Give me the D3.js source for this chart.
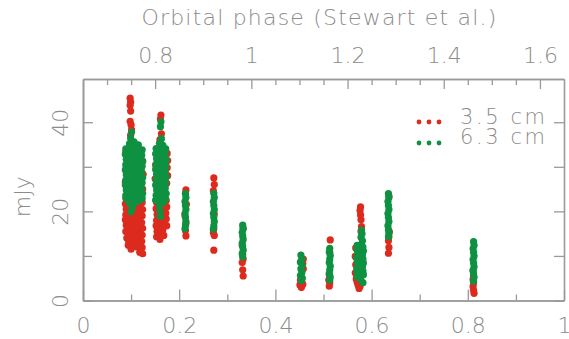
<!DOCTYPE html>
<html>
<head>
<meta charset="utf-8">
<script src="https://cdn.jsdelivr.net/npm/d3@7"></script>
<style>
  html, body { margin: 0; padding: 0; background: #fff; }
  svg text { font-family: "DejaVu Sans", "Liberation Sans", sans-serif; font-weight: 200; fill: #8c8c8c; }
</style>
</head>
<body>
<svg id="chart" width="569" height="339"></svg>
<script>
// Flux densities [orbital phase, mJy] at 3.5 cm
const obs35 = [
  // epoch near 0.10
  [0.098,45.4],[0.099,44.5],[0.098,43.8],[0.099,42.5],[0.098,40.2],[0.100,39.4],[0.101,38.3],[0.099,37.1],
  [0.089,33.4],[0.090,30.1],[0.088,26.6],[0.124,31.2],[0.125,28.3],[0.124,25.0],
  [0.089,23.0],[0.088,21.7],[0.090,20.5],[0.089,19.2],[0.088,18.1],[0.090,16.9],[0.089,15.5],[0.091,14.0],
  [0.094,22.5],[0.095,21.1],[0.094,19.8],[0.093,18.6],[0.095,17.3],[0.094,16.0],[0.096,14.8],[0.095,13.2],[0.094,12.4],
  [0.100,23.1],[0.101,21.6],[0.100,20.2],[0.099,19.0],[0.101,17.6],[0.100,16.4],[0.102,15.1],[0.100,13.9],[0.101,12.8],[0.100,11.5],
  [0.106,22.3],[0.107,21.0],[0.105,19.6],[0.106,18.3],[0.107,17.0],[0.106,15.7],[0.105,14.4],[0.107,13.5],
  [0.112,22.8],[0.113,21.3],[0.111,19.9],[0.112,18.6],[0.113,17.2],[0.112,15.9],[0.111,14.6],[0.113,13.1],[0.112,12.0],
  [0.118,22.5],[0.117,21.0],[0.119,19.7],[0.118,18.4],[0.117,17.1],[0.119,15.8],[0.118,14.3],[0.117,12.9],[0.119,11.7],[0.118,10.8],
  [0.123,22.0],[0.124,20.4],[0.123,19.0],[0.122,17.5],[0.124,16.2],[0.123,14.7],[0.122,13.3],[0.123,11.9],[0.124,10.5],
  // epoch near 0.16
  [0.162,41.6],[0.161,40.7],[0.163,37.4],[0.160,36.1],
  [0.175,33.0],[0.176,31.4],[0.175,29.8],[0.176,28.0],[0.174,26.3],[0.151,30.4],[0.150,27.3],
  [0.153,22.0],[0.152,20.6],[0.154,19.3],[0.153,18.0],[0.152,16.8],[0.154,15.5],[0.153,14.3],
  [0.160,21.4],[0.159,20.1],[0.161,18.8],[0.160,17.4],[0.159,16.1],[0.161,14.8],[0.160,13.7],
  [0.167,21.2],[0.166,19.9],[0.168,18.5],[0.167,17.2],[0.166,15.9],[0.168,14.6],
  [0.173,22.4],[0.174,21.0],[0.172,19.6],[0.173,18.3],[0.174,16.8],
  // epoch near 0.21
  [0.214,24.8],[0.213,24.0],[0.215,21.6],[0.212,19.1],[0.214,17.3],[0.213,15.7],[0.214,14.5],
  // epoch near 0.27
  [0.272,27.5],[0.273,26.0],[0.271,24.6],[0.273,19.4],[0.272,16.1],[0.271,15.2],[0.273,14.6],[0.272,11.3],
  // epoch near 0.33
  [0.333,16.2],[0.331,12.4],[0.332,10.4],[0.333,9.3],[0.331,8.5],[0.332,6.9],[0.333,5.5],
  // epoch near 0.45
  [0.458,9.3],[0.457,8.3],[0.458,7.1],[0.452,4.6],[0.451,3.5],[0.454,2.9],[0.457,3.6],[0.455,4.1],
  // epoch near 0.51
  [0.514,13.6],[0.513,10.8],[0.512,5.8],[0.511,4.6],[0.513,3.9],[0.512,3.2],
  // epoch near 0.58
  [0.577,21.0],[0.576,20.2],[0.577,19.2],[0.578,18.1],[0.579,16.6],[0.578,15.5],
  [0.567,11.8],[0.566,9.9],[0.567,8.0],[0.566,6.2],[0.568,4.8],[0.570,4.1],[0.572,3.4],[0.574,2.7],[0.576,3.2],[0.569,5.3],
  // epoch near 0.64
  [0.636,23.4],[0.637,15.4],[0.636,14.3],[0.635,13.4],[0.636,11.9],[0.635,10.6],
  // epoch near 0.81
  [0.811,6.6],[0.812,5.5],[0.811,4.7],[0.812,3.9],[0.811,3.1],[0.812,2.3],[0.813,1.6]
];

// Flux densities [orbital phase, mJy] at 6.3 cm
const obs63 = [
  // epoch near 0.10
  [0.101,37.8],[0.099,36.4],[0.097,35.2],
  [0.089,34.0],[0.088,32.8],[0.090,31.7],[0.089,30.5],[0.088,29.3],[0.090,28.2],[0.089,27.0],[0.088,25.9],[0.090,24.8],[0.089,23.6],[0.090,22.8],
  [0.097,35.1],[0.098,34.0],[0.096,32.9],[0.097,31.7],[0.098,30.6],[0.096,29.4],[0.097,28.3],[0.098,27.1],[0.096,26.0],[0.097,24.9],[0.098,23.7],[0.096,22.6],[0.097,21.8],
  [0.106,35.6],[0.105,34.4],[0.107,33.2],[0.106,32.0],[0.105,30.9],[0.107,29.7],[0.106,28.6],[0.105,27.4],[0.107,26.3],[0.106,25.1],[0.105,24.0],[0.107,22.9],[0.106,21.9],
  [0.115,34.9],[0.114,33.7],[0.116,32.5],[0.115,31.3],[0.114,30.2],[0.116,29.0],[0.115,27.8],[0.114,26.7],[0.116,25.5],[0.115,24.4],[0.114,23.3],[0.116,22.3],
  [0.123,33.8],[0.122,32.6],[0.124,31.3],[0.123,30.1],[0.122,28.9],[0.124,27.6],[0.123,26.4],[0.122,25.2],[0.124,24.0],[0.123,22.9],
  [0.100,19.9],[0.103,21.0],
  // epoch near 0.16
  [0.162,40.1],[0.161,39.0],[0.163,36.3],
  [0.152,34.1],[0.151,32.9],[0.153,31.8],[0.152,30.6],[0.151,29.4],[0.153,28.3],[0.152,27.1],[0.151,25.9],[0.153,24.8],[0.152,23.6],[0.151,22.5],
  [0.159,35.3],[0.158,34.1],[0.160,32.9],[0.159,31.8],[0.158,30.6],[0.160,29.4],[0.159,28.2],[0.158,27.1],[0.160,25.9],[0.159,24.7],[0.158,23.6],[0.160,22.4],[0.159,21.3],[0.160,20.1],[0.161,18.9],
  [0.166,34.8],[0.165,33.6],[0.167,32.4],[0.166,31.3],[0.165,30.1],[0.167,28.9],[0.166,27.8],[0.165,26.6],[0.167,25.4],[0.166,24.3],[0.165,23.1],[0.167,22.0],
  [0.172,34.0],[0.171,32.7],[0.173,31.5],[0.172,30.2],[0.171,29.0],[0.173,27.7],[0.172,26.5],[0.171,25.2],[0.173,24.0],[0.172,22.8],
  // epoch near 0.21
  [0.213,24.0],[0.214,23.1],[0.212,22.2],[0.213,21.3],[0.214,20.4],[0.212,19.5],[0.213,18.6],[0.214,17.7],[0.213,16.8],[0.212,16.1],
  // epoch near 0.27
  [0.272,24.0],[0.273,23.1],[0.271,22.2],[0.272,21.3],[0.273,20.4],[0.271,19.5],[0.272,18.6],[0.273,17.7],[0.272,16.8],[0.271,16.0],
  // epoch near 0.33
  [0.332,16.9],[0.333,16.1],[0.331,15.3],[0.332,14.5],[0.333,13.7],[0.331,12.9],[0.332,12.1],[0.333,11.3],[0.331,10.5],[0.332,9.8],
  // epoch near 0.45
  [0.453,10.2],[0.455,9.4],[0.452,8.6],[0.456,7.9],[0.453,7.1],[0.455,6.3],[0.452,5.6],[0.456,5.0],[0.454,4.5],
  // epoch near 0.51
  [0.513,11.7],[0.512,10.9],[0.514,10.1],[0.513,9.3],[0.512,8.5],[0.514,7.7],[0.513,6.9],[0.512,6.1],[0.514,5.3],[0.513,4.6],
  // epoch near 0.58
  [0.579,15.8],[0.580,15.0],[0.578,14.2],[0.581,13.4],[0.579,12.6],
  [0.570,12.4],[0.569,11.5],[0.571,10.6],[0.569,9.7],[0.570,8.8],[0.571,7.9],[0.569,7.0],[0.570,6.1],[0.571,5.2],
  [0.576,11.9],[0.575,11.0],[0.577,10.1],[0.576,9.2],[0.575,8.3],[0.577,7.4],[0.576,6.5],[0.575,5.6],[0.577,4.8],
  [0.582,12.0],[0.583,11.1],[0.581,10.2],[0.582,9.3],[0.583,8.4],[0.581,7.5],[0.582,6.6],[0.583,5.8],[0.582,4.0],
  // epoch near 0.64
  [0.635,24.0],[0.636,23.1],[0.634,22.2],[0.635,21.3],[0.636,20.4],[0.634,19.5],[0.635,18.6],[0.636,17.7],[0.634,16.8],[0.635,15.9],[0.636,15.1],[0.635,14.3],
  // epoch near 0.81
  [0.812,13.2],[0.813,12.4],[0.811,11.6],[0.812,10.8],[0.813,10.0],[0.811,9.2],[0.812,8.4],[0.813,7.6],[0.811,6.8],[0.812,6.0],[0.813,5.2],[0.812,4.3]
];

// Axis ticks
const phaseTicksMajor = [0, 0.2, 0.4, 0.6, 0.8, 1];
const phaseTicksMinor = [0.1, 0.3, 0.5, 0.7, 0.9];
const stewartTicksMajor = [0.8, 1, 1.2, 1.4, 1.6];
const stewartTicksMinor = [0.7, 0.75, 0.85, 0.9, 0.95, 1.05, 1.1, 1.15, 1.25, 1.3, 1.35, 1.45, 1.5, 1.55];
const fluxTicksMajor = [0, 20, 40];
const fluxTicksMinor = [10, 30];

const bands = ["3.5 cm", "6.3 cm"];
const bandColors = ["#dc2b1e", "#0e9242"];

const svg = d3.select("#chart");
const plotLeft = 83, plotRight = 564, plotTop = 79, plotBottom = 300.5;

const x = d3.scaleLinear().domain([0, 1]).range([plotLeft, plotRight]);
// Stewart et al. phase runs 0.65 ahead of the bottom phase
const xTop = d3.scaleLinear().domain([0.65, 1.65]).range([plotLeft, plotRight]);
const y = d3.scaleLinear().domain([0, 49.7]).range([plotBottom, plotTop]);

const axisColor = "#9a9a9a";
const fmt = d => d3.format("~g")(d);

function styleAxis(g) {
  g.select(".domain").attr("stroke", axisColor).attr("stroke-width", 1.6);
  g.selectAll(".tick line").attr("stroke", axisColor).attr("stroke-width", 1.3);
  g.selectAll(".tick text").attr("fill", "#8c8c8c").style("font-size", "22px");
}

// Bottom axis
svg.append("g").attr("transform", `translate(0,${plotBottom})`)
  .call(d3.axisBottom(x).tickValues(phaseTicksMinor).tickSizeInner(-6).tickSizeOuter(0).tickFormat(""))
  .call(styleAxis);
svg.append("g").attr("transform", `translate(0,${plotBottom})`)
  .call(d3.axisBottom(x).tickValues(phaseTicksMajor).tickSizeInner(-11).tickSizeOuter(0).tickFormat(fmt))
  .call(styleAxis)
  .call(g => g.selectAll(".tick text").attr("dy", "0.35em").attr("y", 25));

// Top axis
svg.append("g").attr("transform", `translate(0,${plotTop})`)
  .call(d3.axisTop(xTop).tickValues(stewartTicksMinor).tickSizeInner(-6).tickSizeOuter(0).tickFormat(""))
  .call(styleAxis);
svg.append("g").attr("transform", `translate(0,${plotTop})`)
  .call(d3.axisTop(xTop).tickValues(stewartTicksMajor).tickSizeInner(-10).tickSizeOuter(0).tickFormat(fmt))
  .call(styleAxis)
  .call(g => g.selectAll(".tick text").attr("dy", "0.35em").attr("y", -24));

// Left axis
svg.append("g").attr("transform", `translate(${plotLeft},0)`)
  .call(d3.axisLeft(y).tickValues(fluxTicksMinor).tickSizeInner(-9).tickSizeOuter(0).tickFormat(""))
  .call(styleAxis);
svg.append("g").attr("transform", `translate(${plotLeft},0)`)
  .call(d3.axisLeft(y).tickValues(fluxTicksMajor).tickSizeInner(-10).tickSizeOuter(0).tickFormat(fmt))
  .call(styleAxis)
  .call(g => g.selectAll(".tick text")
    .attr("x", 0).attr("dy", "0.35em").attr("text-anchor", "middle")
    .attr("transform", "translate(-23,0) rotate(-90)"));

// Right axis
svg.append("g").attr("transform", `translate(${plotRight},0)`)
  .call(d3.axisRight(y).tickValues(fluxTicksMajor.concat(fluxTicksMinor)).tickSizeInner(-10).tickSizeOuter(0).tickFormat(""))
  .call(styleAxis);

// Axis titles
svg.append("text")
  .attr("x", (plotLeft + plotRight) / 2 - 4).attr("y", 17).attr("dy", "0.35em")
  .attr("text-anchor", "middle").style("font-size", "22px").style("letter-spacing", "1.2px")
  .text("Orbital phase (Stewart et al.)");
svg.append("text")
  .attr("transform", `translate(22,${(plotTop + plotBottom) / 2 + 7}) rotate(-90)`)
  .attr("dy", "0.35em").attr("text-anchor", "middle").style("font-size", "22px")
  .text("mJy");

// Observations: 3.5 cm first, 6.3 cm drawn over it
[obs35, obs63].forEach((series, i) => {
  svg.append("g").selectAll("circle").data(series).join("circle")
    .attr("cx", d => x(d[0]))
    .attr("cy", d => y(d[1]))
    .attr("r", 3.6)
    .attr("fill", bandColors[i]);
});

// Legend
const legend = svg.append("g");
bands.forEach((name, i) => {
  const ly = 122 + i * 21;
  [0, 1, 2].forEach(k => {
    legend.append("circle").attr("cx", 419 + k * 10).attr("cy", ly).attr("r", 2.4).attr("fill", bandColors[i]);
  });
  legend.append("text").attr("x", 460).attr("y", 124 + i * 20)
    .style("font-size", "21px").style("letter-spacing", "2.6px").text(name);
});
</script>
</body>
</html>
